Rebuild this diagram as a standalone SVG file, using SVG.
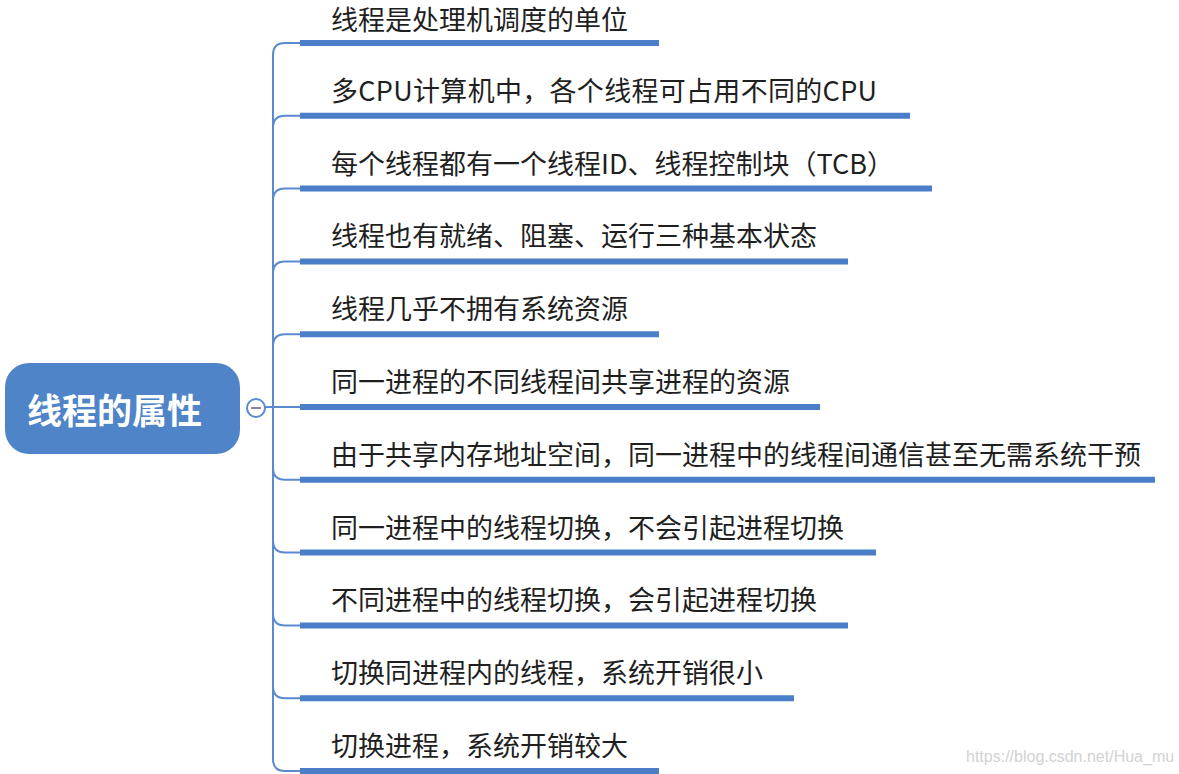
<svg xmlns="http://www.w3.org/2000/svg" width="1179" height="774" viewBox="0 0 1179 774">
<style>
.bg{fill:#ffffff}
.thin{fill:none;stroke:#5a8ad0;stroke-width:2}
.under{stroke:#4a7ec8;stroke-width:6;stroke-linecap:butt}
.lbl{font-family:"Noto Sans CJK SC","Noto Sans",sans-serif;font-size:27px;fill:#1f1f1f}
.root{fill:#4f84c8}
.roottxt{font-family:"Noto Sans CJK SC","Noto Sans",sans-serif;font-size:35px;font-weight:bold;fill:#ffffff}
.wm{font-family:"Liberation Sans",Arial,sans-serif;font-size:16px;fill:#d2d2d2}
</style>
<rect class="bg" x="0" y="0" width="1179" height="774"/>
<g id="connectors">
  <path class="thin" d="M265,407 L300,407"/>
  <path class="thin" d="M273,55 L273,759"/>
  <path class="thin" d="M273,55 Q273,43 285,43 L300,43"/>
  <path class="thin" d="M273,127.8 Q273,115.8 285,115.8 L300,115.8"/>
  <path class="thin" d="M273,200.6 Q273,188.6 285,188.6 L300,188.6"/>
  <path class="thin" d="M273,273.4 Q273,261.4 285,261.4 L300,261.4"/>
  <path class="thin" d="M273,346.2 Q273,334.2 285,334.2 L300,334.2"/>
  <path class="thin" d="M273,467.8 Q273,479.8 285,479.8 L300,479.8"/>
  <path class="thin" d="M273,540.6 Q273,552.6 285,552.6 L300,552.6"/>
  <path class="thin" d="M273,613.4 Q273,625.4 285,625.4 L300,625.4"/>
  <path class="thin" d="M273,686.2 Q273,698.2 285,698.2 L300,698.2"/>
  <path class="thin" d="M273,759 Q273,771 285,771 L300,771"/>
</g>
<g id="root">
  <rect class="root" x="5" y="363" width="235" height="91" rx="24" ry="24"/>
  <text class="roottxt" x="27" y="424">线程的属性</text>
  <circle cx="256" cy="408" r="9" fill="#ffffff" stroke="#5a8ad0" stroke-width="2"/>
  <line x1="251" y1="408" x2="261" y2="408" stroke="#8a80a0" stroke-width="2"/>
</g>
<g id="n1"><line class="under" x1="300" y1="43" x2="659" y2="43"/><text class="lbl" x="331" y="30">线程是处理机调度的单位</text></g>
<g id="n2"><line class="under" x1="300" y1="115.8" x2="910" y2="115.8"/><text class="lbl" x="331" y="100.8" textLength="546">多CPU计算机中，各个线程可占用不同的CPU</text></g>
<g id="n3"><line class="under" x1="300" y1="188.6" x2="932" y2="188.6"/><text class="lbl" x="331" y="173.6">每个线程都有一个线程ID、线程控制块（TCB）</text></g>
<g id="n4"><line class="under" x1="300" y1="261.4" x2="848" y2="261.4"/><text class="lbl" x="331" y="246.4">线程也有就绪、阻塞、运行三种基本状态</text></g>
<g id="n5"><line class="under" x1="300" y1="334.2" x2="659" y2="334.2"/><text class="lbl" x="331" y="319.2">线程几乎不拥有系统资源</text></g>
<g id="n6"><line class="under" x1="300" y1="407" x2="820" y2="407"/><text class="lbl" x="331" y="392">同一进程的不同线程间共享进程的资源</text></g>
<g id="n7"><line class="under" x1="300" y1="479.8" x2="1155" y2="479.8"/><text class="lbl" x="331" y="464.8">由于共享内存地址空间，同一进程中的线程间通信甚至无需系统干预</text></g>
<g id="n8"><line class="under" x1="300" y1="552.6" x2="876" y2="552.6"/><text class="lbl" x="331" y="537.6">同一进程中的线程切换，不会引起进程切换</text></g>
<g id="n9"><line class="under" x1="300" y1="625.4" x2="848" y2="625.4"/><text class="lbl" x="331" y="610.4">不同进程中的线程切换，会引起进程切换</text></g>
<g id="n10"><line class="under" x1="300" y1="698.2" x2="794" y2="698.2"/><text class="lbl" x="331" y="683.2">切换同进程内的线程，系统开销很小</text></g>
<g id="n11"><line class="under" x1="300" y1="771" x2="659" y2="771"/><text class="lbl" x="331" y="756">切换进程，系统开销较大</text></g>
<text class="wm" x="966" y="762">https://blog.csdn.net/Hua_mu</text>
</svg>
